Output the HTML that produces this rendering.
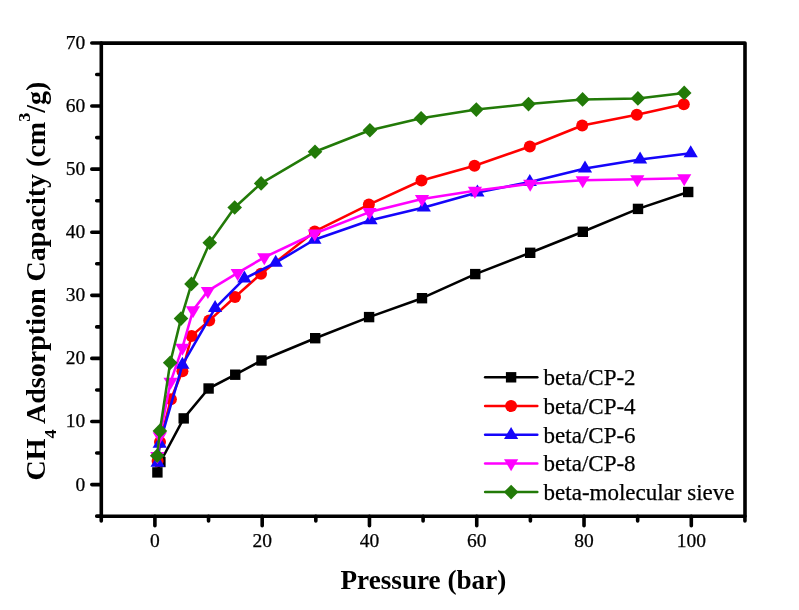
<!DOCTYPE html>
<html><head><meta charset="utf-8"><title>CH4 adsorption</title>
<style>
html,body{margin:0;padding:0;background:#fff;}
svg{display:block;will-change:transform;}
text{font-family:"Liberation Serif",serif;fill:#000;}
.tl{font-size:19.5px;stroke:#000;stroke-width:0.25px;}
.lg{font-size:23px;stroke:#000;stroke-width:0.25px;}
.ti{font-size:27.2px;font-weight:bold;}
</style></head><body>
<svg width="799" height="610" viewBox="0 0 799 610">
<rect width="799" height="610" fill="#fff"/>
<rect x="101.3" y="43.1" width="643.7" height="473.19999999999993" fill="none" stroke="#000" stroke-width="3.6" stroke-linejoin="round"/>
<path d="M101.26,516.3 v4.6 M154.90,516.3 v9.5 M208.54,516.3 v4.6 M262.18,516.3 v9.5 M315.82,516.3 v4.6 M369.46,516.3 v9.5 M423.10,516.3 v4.6 M476.74,516.3 v9.5 M530.38,516.3 v4.6 M584.02,516.3 v9.5 M637.66,516.3 v4.6 M691.30,516.3 v9.5 M744.94,516.3 v4.6 M101.3,516.14 h-4.6 M101.3,484.60 h-9.5 M101.3,453.06 h-4.6 M101.3,421.51 h-9.5 M101.3,389.97 h-4.6 M101.3,358.42 h-9.5 M101.3,326.88 h-4.6 M101.3,295.33 h-9.5 M101.3,263.79 h-4.6 M101.3,232.24 h-9.5 M101.3,200.69 h-4.6 M101.3,169.15 h-9.5 M101.3,137.61 h-4.6 M101.3,106.06 h-9.5 M101.3,74.51 h-4.6 M101.3,42.97 h-9.5" stroke="#000" stroke-width="3.6" stroke-linecap="round" fill="none"/>
<text x="154.90" y="546.9" text-anchor="middle" class="tl">0</text>
<text x="262.18" y="546.9" text-anchor="middle" class="tl">20</text>
<text x="369.46" y="546.9" text-anchor="middle" class="tl">40</text>
<text x="476.74" y="546.9" text-anchor="middle" class="tl">60</text>
<text x="584.02" y="546.9" text-anchor="middle" class="tl">80</text>
<text x="691.30" y="546.9" text-anchor="middle" class="tl">100</text>
<text x="85.3" y="490.50" text-anchor="end" class="tl">0</text>
<text x="85.3" y="427.41" text-anchor="end" class="tl">10</text>
<text x="85.3" y="364.32" text-anchor="end" class="tl">20</text>
<text x="85.3" y="301.23" text-anchor="end" class="tl">30</text>
<text x="85.3" y="238.14" text-anchor="end" class="tl">40</text>
<text x="85.3" y="175.05" text-anchor="end" class="tl">50</text>
<text x="85.3" y="111.96" text-anchor="end" class="tl">60</text>
<text x="85.3" y="48.87" text-anchor="end" class="tl">70</text>
<path d="M157.40,472.40 L160.40,462.00 L183.70,418.40 L208.60,388.50 L235.25,374.70 L261.50,360.50 L315.20,338.20 L369.10,317.10 L422.00,298.20 L475.25,274.10 L530.20,252.80 L582.80,231.80 L638.00,208.90 L688.20,192.00" fill="none" stroke="#000000" stroke-width="2.55" stroke-linejoin="round"/>
<rect x="152.20" y="467.20" width="10.4" height="10.4" fill="#000000"/>
<rect x="155.20" y="456.80" width="10.4" height="10.4" fill="#000000"/>
<rect x="178.50" y="413.20" width="10.4" height="10.4" fill="#000000"/>
<rect x="203.40" y="383.30" width="10.4" height="10.4" fill="#000000"/>
<rect x="230.05" y="369.50" width="10.4" height="10.4" fill="#000000"/>
<rect x="256.30" y="355.30" width="10.4" height="10.4" fill="#000000"/>
<rect x="310.00" y="333.00" width="10.4" height="10.4" fill="#000000"/>
<rect x="363.90" y="311.90" width="10.4" height="10.4" fill="#000000"/>
<rect x="416.80" y="293.00" width="10.4" height="10.4" fill="#000000"/>
<rect x="470.05" y="268.90" width="10.4" height="10.4" fill="#000000"/>
<rect x="525.00" y="247.60" width="10.4" height="10.4" fill="#000000"/>
<rect x="577.60" y="226.60" width="10.4" height="10.4" fill="#000000"/>
<rect x="632.80" y="203.70" width="10.4" height="10.4" fill="#000000"/>
<rect x="683.00" y="186.80" width="10.4" height="10.4" fill="#000000"/>
<path d="M157.60,461.00 L160.00,441.90 L170.90,399.20 L182.40,371.30 L191.60,335.90 L209.20,320.60 L235.00,297.00 L261.00,273.70 L314.75,231.40 L368.85,204.60 L421.50,180.50 L474.50,165.70 L529.80,146.50 L582.20,125.50 L636.80,114.80 L683.80,104.20" fill="none" stroke="#ff0000" stroke-width="2.55" stroke-linejoin="round"/>
<circle cx="157.60" cy="461.00" r="6" fill="#ff0000"/>
<circle cx="160.00" cy="441.90" r="6" fill="#ff0000"/>
<circle cx="170.90" cy="399.20" r="6" fill="#ff0000"/>
<circle cx="182.40" cy="371.30" r="6" fill="#ff0000"/>
<circle cx="191.60" cy="335.90" r="6" fill="#ff0000"/>
<circle cx="209.20" cy="320.60" r="6" fill="#ff0000"/>
<circle cx="235.00" cy="297.00" r="6" fill="#ff0000"/>
<circle cx="261.00" cy="273.70" r="6" fill="#ff0000"/>
<circle cx="314.75" cy="231.40" r="6" fill="#ff0000"/>
<circle cx="368.85" cy="204.60" r="6" fill="#ff0000"/>
<circle cx="421.50" cy="180.50" r="6" fill="#ff0000"/>
<circle cx="474.50" cy="165.70" r="6" fill="#ff0000"/>
<circle cx="529.80" cy="146.50" r="6" fill="#ff0000"/>
<circle cx="582.20" cy="125.50" r="6" fill="#ff0000"/>
<circle cx="636.80" cy="114.80" r="6" fill="#ff0000"/>
<circle cx="683.80" cy="104.20" r="6" fill="#ff0000"/>
<path d="M157.60,462.70 L159.70,443.70 L182.40,364.80 L215.10,308.10 L244.40,278.60 L275.70,262.70 L314.40,239.75 L370.50,220.30 L423.80,207.40 L477.40,192.60 L529.80,182.00 L585.00,168.50 L640.10,159.50 L690.70,153.20" fill="none" stroke="#1505fa" stroke-width="2.55" stroke-linejoin="round"/>
<polygon points="150.50,466.70 164.70,466.70 157.60,454.70" fill="#1505fa"/>
<polygon points="152.60,447.70 166.80,447.70 159.70,435.70" fill="#1505fa"/>
<polygon points="175.30,368.80 189.50,368.80 182.40,356.80" fill="#1505fa"/>
<polygon points="208.00,312.10 222.20,312.10 215.10,300.10" fill="#1505fa"/>
<polygon points="237.30,282.60 251.50,282.60 244.40,270.60" fill="#1505fa"/>
<polygon points="268.60,266.70 282.80,266.70 275.70,254.70" fill="#1505fa"/>
<polygon points="307.30,243.75 321.50,243.75 314.40,231.75" fill="#1505fa"/>
<polygon points="363.40,224.30 377.60,224.30 370.50,212.30" fill="#1505fa"/>
<polygon points="416.70,211.40 430.90,211.40 423.80,199.40" fill="#1505fa"/>
<polygon points="470.30,196.60 484.50,196.60 477.40,184.60" fill="#1505fa"/>
<polygon points="522.70,186.00 536.90,186.00 529.80,174.00" fill="#1505fa"/>
<polygon points="577.90,172.50 592.10,172.50 585.00,160.50" fill="#1505fa"/>
<polygon points="633.00,163.50 647.20,163.50 640.10,151.50" fill="#1505fa"/>
<polygon points="683.60,157.20 697.80,157.20 690.70,145.20" fill="#1505fa"/>
<path d="M157.30,456.00 L159.80,436.30 L170.60,381.80 L182.40,347.70 L193.00,310.30 L207.90,290.90 L237.70,272.90 L264.30,257.30 L314.75,233.50 L369.50,212.10 L422.00,199.00 L474.90,190.80 L530.20,183.80 L582.70,180.20 L637.30,179.20 L684.20,178.20" fill="none" stroke="#ff00ff" stroke-width="2.55" stroke-linejoin="round"/>
<polygon points="150.20,452.00 164.40,452.00 157.30,464.00" fill="#ff00ff"/>
<polygon points="152.70,432.30 166.90,432.30 159.80,444.30" fill="#ff00ff"/>
<polygon points="163.50,377.80 177.70,377.80 170.60,389.80" fill="#ff00ff"/>
<polygon points="175.30,343.70 189.50,343.70 182.40,355.70" fill="#ff00ff"/>
<polygon points="185.90,306.30 200.10,306.30 193.00,318.30" fill="#ff00ff"/>
<polygon points="200.80,286.90 215.00,286.90 207.90,298.90" fill="#ff00ff"/>
<polygon points="230.60,268.90 244.80,268.90 237.70,280.90" fill="#ff00ff"/>
<polygon points="257.20,253.30 271.40,253.30 264.30,265.30" fill="#ff00ff"/>
<polygon points="307.65,229.50 321.85,229.50 314.75,241.50" fill="#ff00ff"/>
<polygon points="362.40,208.10 376.60,208.10 369.50,220.10" fill="#ff00ff"/>
<polygon points="414.90,195.00 429.10,195.00 422.00,207.00" fill="#ff00ff"/>
<polygon points="467.80,186.80 482.00,186.80 474.90,198.80" fill="#ff00ff"/>
<polygon points="523.10,179.80 537.30,179.80 530.20,191.80" fill="#ff00ff"/>
<polygon points="575.60,176.20 589.80,176.20 582.70,188.20" fill="#ff00ff"/>
<polygon points="630.20,175.20 644.40,175.20 637.30,187.20" fill="#ff00ff"/>
<polygon points="677.10,174.20 691.30,174.20 684.20,186.20" fill="#ff00ff"/>
<path d="M157.20,455.70 L159.90,430.90 L170.20,362.80 L181.00,318.60 L191.50,283.90 L209.75,242.80 L234.70,207.50 L261.10,183.40 L315.00,151.70 L369.90,130.20 L421.10,118.30 L476.30,109.60 L528.50,104.10 L582.60,99.40 L637.90,98.40 L684.20,92.90" fill="none" stroke="#227a08" stroke-width="2.55" stroke-linejoin="round"/>
<polygon points="149.90,455.70 157.20,448.40 164.50,455.70 157.20,463.00" fill="#227a08"/>
<polygon points="152.60,430.90 159.90,423.60 167.20,430.90 159.90,438.20" fill="#227a08"/>
<polygon points="162.90,362.80 170.20,355.50 177.50,362.80 170.20,370.10" fill="#227a08"/>
<polygon points="173.70,318.60 181.00,311.30 188.30,318.60 181.00,325.90" fill="#227a08"/>
<polygon points="184.20,283.90 191.50,276.60 198.80,283.90 191.50,291.20" fill="#227a08"/>
<polygon points="202.45,242.80 209.75,235.50 217.05,242.80 209.75,250.10" fill="#227a08"/>
<polygon points="227.40,207.50 234.70,200.20 242.00,207.50 234.70,214.80" fill="#227a08"/>
<polygon points="253.80,183.40 261.10,176.10 268.40,183.40 261.10,190.70" fill="#227a08"/>
<polygon points="307.70,151.70 315.00,144.40 322.30,151.70 315.00,159.00" fill="#227a08"/>
<polygon points="362.60,130.20 369.90,122.90 377.20,130.20 369.90,137.50" fill="#227a08"/>
<polygon points="413.80,118.30 421.10,111.00 428.40,118.30 421.10,125.60" fill="#227a08"/>
<polygon points="469.00,109.60 476.30,102.30 483.60,109.60 476.30,116.90" fill="#227a08"/>
<polygon points="521.20,104.10 528.50,96.80 535.80,104.10 528.50,111.40" fill="#227a08"/>
<polygon points="575.30,99.40 582.60,92.10 589.90,99.40 582.60,106.70" fill="#227a08"/>
<polygon points="630.60,98.40 637.90,91.10 645.20,98.40 637.90,105.70" fill="#227a08"/>
<polygon points="676.90,92.90 684.20,85.60 691.50,92.90 684.20,100.20" fill="#227a08"/>
<path d="M485.1,377.3 H537.3" stroke="#000000" stroke-width="2.5" stroke-linecap="round" fill="none"/>
<rect x="505.90" y="372.10" width="10.4" height="10.4" fill="#000000"/>
<text x="543.6" y="384.90" class="lg">beta/CP-2</text>
<path d="M485.1,406.1 H537.3" stroke="#ff0000" stroke-width="2.5" stroke-linecap="round" fill="none"/>
<circle cx="511.10" cy="406.10" r="6" fill="#ff0000"/>
<text x="543.6" y="413.70" class="lg">beta/CP-4</text>
<path d="M485.1,434.7 H537.3" stroke="#1505fa" stroke-width="2.5" stroke-linecap="round" fill="none"/>
<polygon points="504.00,439.00 518.20,439.00 511.10,427.00" fill="#1505fa"/>
<text x="543.6" y="442.50" class="lg">beta/CP-6</text>
<path d="M485.1,463.4 H537.3" stroke="#ff00ff" stroke-width="2.5" stroke-linecap="round" fill="none"/>
<polygon points="504.00,459.30 518.20,459.30 511.10,471.30" fill="#ff00ff"/>
<text x="543.6" y="471.30" class="lg">beta/CP-8</text>
<path d="M485.1,492.1 H537.3" stroke="#227a08" stroke-width="2.5" stroke-linecap="round" fill="none"/>
<polygon points="503.80,492.10 511.10,484.80 518.40,492.10 511.10,499.40" fill="#227a08"/>
<text x="543.6" y="500.10" class="lg">beta-molecular sieve</text>
<text x="423.4" y="588.8" text-anchor="middle" class="ti">Pressure (bar)</text>
<text transform="translate(45.1,480.6) rotate(-90)" class="ti" textLength="399" lengthAdjust="spacingAndGlyphs">CH<tspan dy="10.6" font-size="17.5">4</tspan><tspan dy="-10.6"> Adsorption Capacity (cm</tspan><tspan dy="-14.8" font-size="17.5">3</tspan><tspan dy="14.8">/g)</tspan></text>
</svg>
</body></html>
